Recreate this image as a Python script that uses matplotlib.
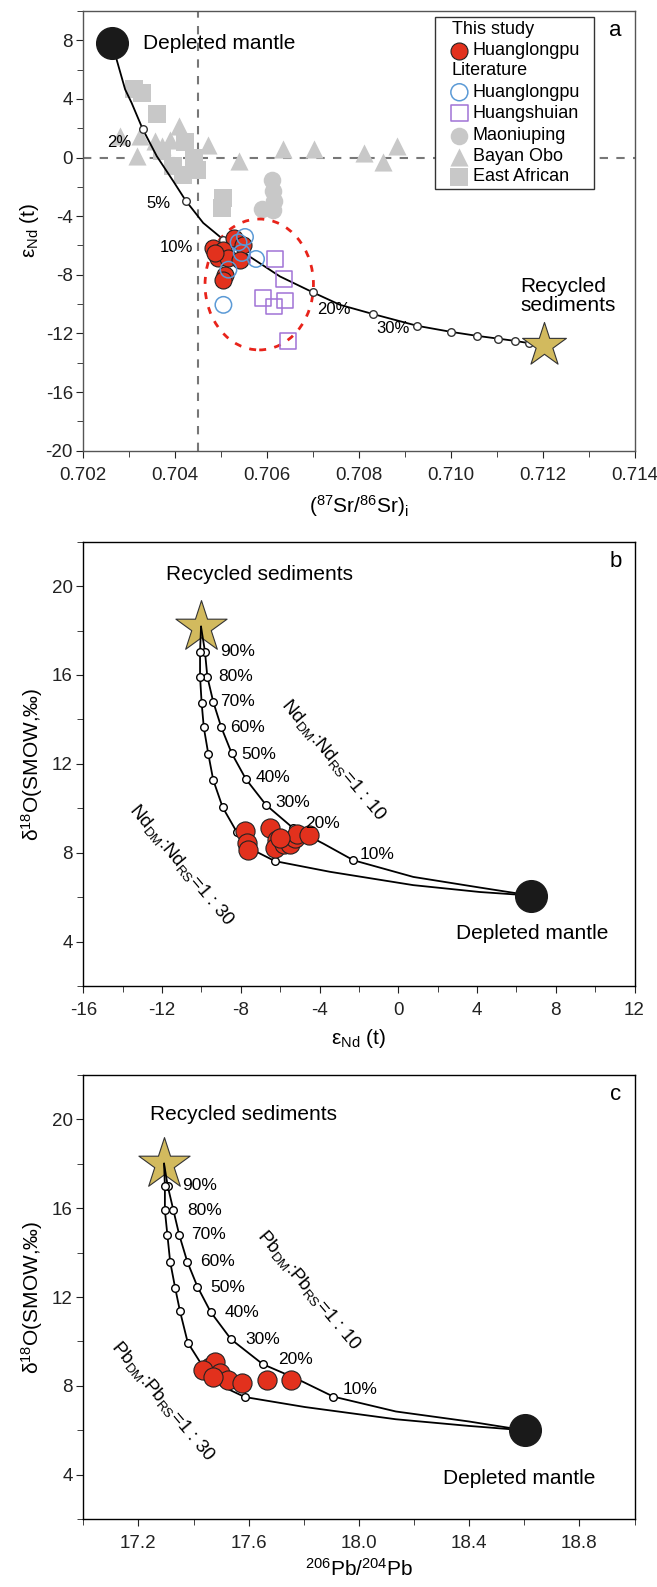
import matplotlib
matplotlib.use('Agg')
import matplotlib.pyplot as plt
from matplotlib.patches import Ellipse, Rectangle
from matplotlib.ticker import MultipleLocator, FormatStrFormatter

plt.rcParams['font.family'] = ['Liberation Sans', 'DejaVu Sans']
plt.rcParams['mathtext.fontset'] = 'custom'
plt.rcParams['mathtext.rm'] = 'Liberation Sans'
plt.rcParams['mathtext.it'] = 'Liberation Sans:italic'
plt.rcParams['axes.unicode_minus'] = False

# ---------------- panel a : Sr-Nd ----------------
a_dm = (0.70262, 7.84)
a_rs = (0.71203, -12.8)
a_curve_x = [0.70262, 0.70291, 0.70305, 0.70329, 0.70360, 0.70396, 0.70423, 0.70461, 0.70505,
             0.70556, 0.70628, 0.70700, 0.70759, 0.70831, 0.70927, 0.71000, 0.71056, 0.71102,
             0.71140, 0.71170, 0.71203]
a_curve_y = [7.84, 4.65, 3.74, 1.96, 0.09, -1.62, -2.94, -4.46, -5.60,
             -6.63, -8.11, -9.20, -10.05, -10.68, -11.48, -11.89, -12.16, -12.35,
             -12.51, -12.66, -12.8]
a_tick_x = [0.70329, 0.70423, 0.70505, 0.70700, 0.70831, 0.70927, 0.71000, 0.71056, 0.71102, 0.71140, 0.71170]
a_tick_y = [1.96, -2.94, -5.60, -9.20, -10.68, -11.48, -11.89, -12.16, -12.35, -12.51, -12.66]
a_pct_labels = ['2%', '5%', '10%', '20%', '30%']
a_pct_x = [0.70305, 0.70389, 0.70440, 0.70708, 0.70837]
a_pct_y = [1.0, -3.14, -6.17, -10.34, -11.64]

hlp_x = [0.70527, 0.70547, 0.70483, 0.70504, 0.70494, 0.70516, 0.70541, 0.70509, 0.70504, 0.70487]
hlp_y = [-5.49, -5.94, -6.17, -6.33, -6.85, -6.85, -7.02, -8.04, -8.34, -6.51]
lit_hlp_x = [0.70552, 0.70538, 0.70576, 0.70516, 0.70505, 0.70545]
lit_hlp_y = [-5.42, -5.79, -6.92, -7.65, -10.05, -6.51]
hsa_x = [0.70617, 0.70637, 0.70591, 0.70639, 0.70615, 0.70645, 0.70545]
hsa_y = [-6.92, -8.27, -9.59, -9.75, -10.16, -12.49, -6.63]
mnp_x = [0.70610, 0.70612, 0.70615, 0.70612, 0.70588]
mnp_y = [-1.50, -2.30, -2.98, -3.60, -3.50]
bo_x = [0.70280, 0.70316, 0.70356, 0.70389, 0.70409, 0.70472, 0.70540, 0.70635, 0.70702,
        0.70810, 0.70852, 0.70882, 0.70323, 0.70371]
bo_y = [1.46, 0.09, 1.12, 1.23, 2.14, 0.84, -0.25, 0.55, 0.55, 0.32, -0.29, 0.78, 1.46, 0.78]
ea_x = [0.70310, 0.70327, 0.70360, 0.70371, 0.70421, 0.70396, 0.70440, 0.70418, 0.70447,
        0.70505, 0.70501]
ea_y = [4.65, 4.42, 2.94, 0.43, 1.05, -0.59, -0.02, -1.16, -0.82, -2.75, -3.44]

# ---------------- panel b : Nd-O ----------------
b_dm = (6.76, 6.07)
b_rs = (-10.02, 18.17)
b10_x = [-10.02, -9.82, -9.70, -9.40, -8.99, -8.46, -7.74, -6.72, -5.36, -3.81, -2.28, 0.76, 4.15, 6.76]
b10_y = [18.17, 17.05, 15.92, 14.79, 13.64, 12.47, 11.31, 10.15, 9.12, 8.41, 7.66, 6.91, 6.43, 6.07]
b30_x = [-10.02, -10.07, -10.07, -9.99, -9.88, -9.65, -9.40, -8.92, -8.21, -7.36, -6.26, -3.47, 0.76, 4.15, 6.76]
b30_y = [18.17, 17.05, 15.92, 14.75, 13.64, 12.44, 11.27, 10.04, 8.94, 8.11, 7.62, 7.14, 6.54, 6.23, 6.07]
b10_tick = [1, 2, 3, 4, 5, 6, 7, 8, 10]
b30_tick = [1, 2, 3, 4, 5, 6, 7, 8, 10]
b_pct_labels = ['90%', '80%', '70%', '60%', '50%', '40%', '30%', '20%', '10%']
b_pct_x = [-9.07, -9.14, -9.06, -8.55, -7.95, -7.23, -6.23, -4.74, -1.98]
b_pct_y = [17.05, 15.92, 14.79, 13.64, 12.44, 11.39, 10.24, 9.32, 7.93]
b_red_x = [-7.79, -7.67, -7.62, -6.52, -6.18, -6.26, -5.80, -5.50, -5.25, -5.16, -4.52, -6.01]
b_red_y = [8.98, 8.44, 8.11, 9.09, 8.56, 8.23, 8.38, 8.38, 8.64, 8.86, 8.79, 8.64]

# ---------------- panel c : Pb-O ----------------
c_dm = (18.603, 6.0)
c_rs = (17.293, 18.0)
c10_x = [17.293, 17.306, 17.327, 17.348, 17.377, 17.414, 17.462, 17.536, 17.651, 17.778, 17.907, 18.134, 18.399, 18.603]
c10_y = [18.0, 17.01, 15.90, 14.80, 13.60, 12.47, 11.33, 10.10, 8.98, 8.30, 7.52, 6.85, 6.40, 6.0]
c30_x = [17.293, 17.296, 17.296, 17.305, 17.315, 17.333, 17.351, 17.379, 17.435, 17.501, 17.586, 17.804, 18.134, 18.399, 18.603]
c30_y = [18.0, 17.01, 15.90, 14.80, 13.60, 12.43, 11.35, 9.95, 8.85, 8.00, 7.50, 7.05, 6.50, 6.20, 6.0]
c10_tick = [1, 2, 3, 4, 5, 6, 7, 8, 10]
c30_tick = [1, 2, 3, 4, 5, 6, 7, 8, 10]
c_pct_labels = ['90%', '80%', '70%', '60%', '50%', '40%', '30%', '20%', '10%']
c_pct_x = [17.360, 17.377, 17.393, 17.423, 17.462, 17.514, 17.587, 17.708, 17.941]
c_pct_y = [17.01, 15.90, 14.80, 13.60, 12.45, 11.30, 10.10, 9.17, 7.82]
c_red_x = [17.460, 17.478, 17.496, 17.526, 17.575, 17.665, 17.753, 17.435, 17.472]
c_red_y = [8.87, 9.09, 8.57, 8.27, 8.12, 8.27, 8.27, 8.72, 8.42]

RED = '#e2311d'
GRAY = '#c8c8c8'
STAR = '#d2ba5e'

fig = plt.figure(figsize=(6.57, 15.87), dpi=100)
L, W = 0.1268, 0.839
axa = fig.add_axes([L, 0.7160, W, 0.2771])
axb = fig.add_axes([L, 0.3787, W, 0.2800])
axc = fig.add_axes([L, 0.0427, W, 0.2800])


def style(ax, col='black'):
    for s in ax.spines.values():
        s.set_color(col)
        s.set_linewidth(1.0)
    ax.tick_params(which='both', direction='out', top=False, right=False,
                   labelsize=13.5, colors='#222222')
    ax.tick_params(axis='x', pad=6.5)
    ax.tick_params(axis='y', pad=2.5)
    ax.tick_params(which='major', length=5)
    ax.tick_params(which='minor', length=4)


# ---- a ----
ax = axa
style(ax, '#555555')
ax.axvline(0.7045, color='#777777', ls=(0, (4, 4)), lw=1.5, zorder=1)
ax.axhline(0, color='#777777', ls=(0, (4, 4)), lw=1.5, zorder=1)
ax.scatter(mnp_x, mnp_y, s=160, c=GRAY, marker='o', lw=0, zorder=2)
ax.scatter(bo_x, bo_y, s=170, c=GRAY, marker='^', lw=0, zorder=2)
ax.scatter(ea_x, ea_y, s=150, c=GRAY, marker='s', lw=0, zorder=2)
ax.plot(a_curve_x, a_curve_y, color='black', lw=1.3, zorder=3)
ax.scatter(a_tick_x, a_tick_y, s=30, facecolor='white', edgecolor='#333333', lw=1.0, zorder=4)
ax.add_patch(Ellipse((0.70583, -8.66), 0.00236, 8.93, fill=False, ec='#e8231a', lw=2.0,
                     ls=(0, (2.5, 3)), zorder=3))
ax.scatter(hsa_x, hsa_y, s=130, marker='s', facecolor='none', edgecolor='#a173d6', lw=1.1, zorder=5)
ax.scatter(hlp_x, hlp_y, s=150, c=RED, edgecolor='#222222', lw=0.8, zorder=6)
ax.scatter(lit_hlp_x, lit_hlp_y, s=140, facecolor='none', edgecolor='#5b9ad6', lw=1.1, zorder=7)
ax.scatter(*a_dm, s=520, c='#1a1a1a', zorder=8)
ax.scatter(*a_rs, s=1100, marker='*', c=STAR, edgecolor='#333333', lw=0.8, zorder=8)
for t, x, y in zip(a_pct_labels, a_pct_x, a_pct_y):
    ax.text(x, y, t, fontsize=12, ha='left' if t in ('20%', '30%') else 'right', va='center', zorder=9)
ax.text(0.70331, 7.77, 'Depleted mantle', fontsize=15, va='center')
ax.text(0.71151, -9.45, 'Recycled\nsediments', fontsize=15, va='center', linespacing=1.0)
ax.text(0.9655, 0.955, 'a', transform=ax.transAxes, fontsize=16, ha='center', va='center')
ax.set_xlim(0.702, 0.714)
ax.set_ylim(-20, 10)
ax.xaxis.set_major_locator(MultipleLocator(0.002))
ax.xaxis.set_minor_locator(MultipleLocator(0.001))
ax.yaxis.set_major_locator(MultipleLocator(4))
ax.yaxis.set_minor_locator(MultipleLocator(2))
ax.xaxis.set_major_formatter(FormatStrFormatter('%.3f'))
ax.set_xlabel(r'($^{87}$Sr/$^{86}$Sr)$_{\mathrm{i}}$', fontsize=15, labelpad=7)
ax.set_ylabel(r'ε$_{\mathrm{Nd}}$ (t)', fontsize=15, labelpad=3)

# legend box (manual, axes fraction)
lx0, ly0, lw_, lh_ = 0.638, 0.5945, 0.2885, 0.3912
ax.add_patch(Rectangle((lx0, ly0), lw_, lh_, transform=ax.transAxes, fill=True, fc='white',
                       ec='#333333', lw=1.0, zorder=10))
rows_y = [0.9584, 0.9097, 0.8642, 0.8151, 0.7673, 0.7164, 0.6686, 0.6231]
mx, tx, hx = 0.6822, 0.7065, 0.6683
ax.text(hx, rows_y[0], 'This study', transform=ax.transAxes, fontsize=13, va='center', zorder=11)
ax.text(hx, rows_y[2], 'Literature', transform=ax.transAxes, fontsize=13, va='center', zorder=11)
leg = [('Huanglongpu', dict(marker='o', s=150, c=RED, edgecolor='#222222', lw=0.8)),
       ('Huanglongpu', dict(marker='o', s=150, facecolor='none', edgecolor='#5b9ad6', lw=1.1)),
       ('Huangshuian', dict(marker='s', s=140, facecolor='none', edgecolor='#a173d6', lw=1.1)),
       ('Maoniuping', dict(marker='o', s=160, c=GRAY, lw=0)),
       ('Bayan Obo', dict(marker='^', s=170, c=GRAY, lw=0)),
       ('East African', dict(marker='s', s=150, c=GRAY, lw=0))]
for (name, kw), yy in zip(leg, [rows_y[1]] + rows_y[3:]):
    ax.scatter([mx], [yy], transform=ax.transAxes, zorder=11, clip_on=False, **kw)
    ax.text(tx, yy, name, transform=ax.transAxes, fontsize=13, va='center', zorder=11)


def mixing_panel(ax, x10, y10, x30, y30, t10, t30, dm, rs, pct_lab, pct_x, pct_y, red_x, red_y):
    style(ax)
    ax.plot(x10, y10, color='black', lw=1.3, zorder=2)
    ax.plot(x30, y30, color='black', lw=1.3, zorder=2)
    ax.scatter([x10[i] for i in t10], [y10[i] for i in t10], s=30, facecolor='white',
               edgecolor='black', lw=1.0, zorder=3)
    ax.scatter([x30[i] for i in t30], [y30[i] for i in t30], s=30, facecolor='white',
               edgecolor='black', lw=1.0, zorder=3)
    ax.scatter(red_x, red_y, s=190, c=RED, edgecolor='#222222', lw=0.8, zorder=4)
    ax.scatter(*dm, s=520, c='#1a1a1a', zorder=5)
    ax.scatter(*rs, s=1500, marker='*', c=STAR, edgecolor='#333333', lw=0.8, zorder=1)
    for t, x, y in zip(pct_lab, pct_x, pct_y):
        ax.text(x, y, t, fontsize=12.5, ha='left', va='center', zorder=6)
    ax.set_ylim(2, 22)
    ax.yaxis.set_major_locator(MultipleLocator(4))
    ax.yaxis.set_minor_locator(MultipleLocator(2))
    ax.set_ylabel(r'δ$^{18}$O(SMOW,‰)', fontsize=15, labelpad=5)


# ---- b ----
ax = axb
mixing_panel(ax, b10_x, b10_y, b30_x, b30_y, b10_tick, b30_tick, b_dm, b_rs,
             b_pct_labels, b_pct_x, b_pct_y, b_red_x, b_red_y)
ax.set_xlim(-16, 12)
ax.xaxis.set_major_locator(MultipleLocator(4))
ax.xaxis.set_minor_locator(MultipleLocator(2))
ax.set_xlabel(r'ε$_{\mathrm{Nd}}$ (t)', fontsize=15, labelpad=6)
ax.text(-7.07, 20.50, 'Recycled sediments', fontsize=15, ha='center', va='center')
ax.text(6.80, 4.36, 'Depleted mantle', fontsize=15, ha='center', va='center')
ax.text(-3.3, 12.17, r'Nd$_{\mathrm{DM}}$:Nd$_{\mathrm{RS}}$=1 : 10', fontsize=13.5, rotation=-50,
        ha='center', va='center')
ax.text(-11.0, 7.44, r'Nd$_{\mathrm{DM}}$:Nd$_{\mathrm{RS}}$=1 : 30', fontsize=13.5, rotation=-50,
        ha='center', va='center')
ax.text(0.9655, 0.955, 'b', transform=ax.transAxes, fontsize=16, ha='center', va='center')

# ---- c ----
ax = axc
mixing_panel(ax, c10_x, c10_y, c30_x, c30_y, c10_tick, c30_tick, c_dm, c_rs,
             c_pct_labels, c_pct_x, c_pct_y, c_red_x, c_red_y)
ax.set_xlim(17.0, 19.0)
ax.xaxis.set_major_locator(MultipleLocator(0.4))
ax.xaxis.set_minor_locator(MultipleLocator(0.2))
ax.xaxis.set_major_formatter(FormatStrFormatter('%.1f'))
ax.set_xlabel(r'$^{206}$Pb/$^{204}$Pb', fontsize=15, labelpad=4)
ax.text(17.581, 20.21, 'Recycled sediments', fontsize=15, ha='center', va='center')
ax.text(18.58, 3.84, 'Depleted mantle', fontsize=15, ha='center', va='center')
ax.text(17.82, 12.32, r'Pb$_{\mathrm{DM}}$:Pb$_{\mathrm{RS}}$=1 : 10', fontsize=13.5, rotation=-50,
        ha='center', va='center')
ax.text(17.29, 7.3, r'Pb$_{\mathrm{DM}}$:Pb$_{\mathrm{RS}}$=1 : 30', fontsize=13.5, rotation=-50,
        ha='center', va='center')
ax.text(0.9655, 0.955, 'c', transform=ax.transAxes, fontsize=16, ha='center', va='center')

fig.savefig('out.png', dpi=100)
